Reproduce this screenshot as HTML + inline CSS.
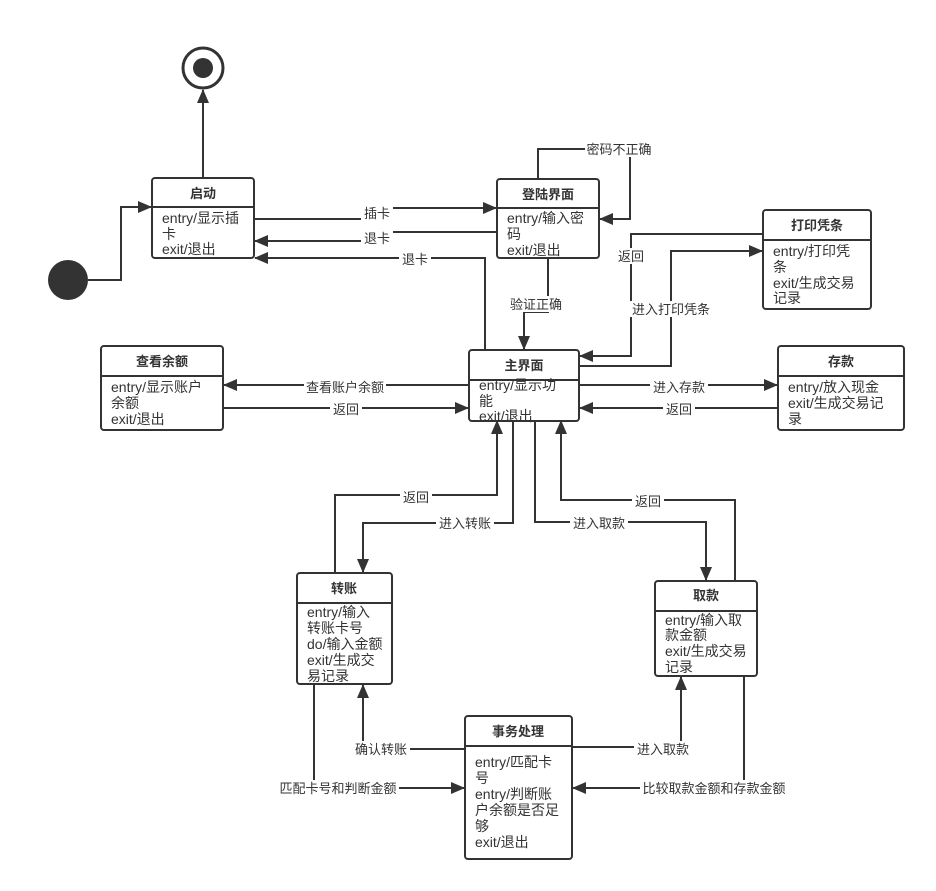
<!DOCTYPE html>
<html><head><meta charset="utf-8"><style>
body{margin:0;background:#fff}
svg{display:block}
text{font-family:"Liberation Sans","Noto Sans CJK SC",sans-serif;font-size:14px;fill:#333}
.t{font-weight:bold;text-anchor:middle;font-size:13px}
.l{text-anchor:middle;font-size:13px}
.b{fill:#fff;stroke:#333;stroke-width:2}
.c{fill:none;stroke:#333;stroke-width:2}
</style></head><body>
<svg width="936" height="891" viewBox="0 0 936 891" xmlns="http://www.w3.org/2000/svg">
<defs><marker id="a" markerWidth="14" markerHeight="12" refX="13" refY="6" orient="auto" markerUnits="userSpaceOnUse"><path d="M0,0 L14,6 L0,12 z" fill="#333"/></marker></defs>
<g class="c" marker-end="url(#a)">
<path d="M88,280 H121 V207 H151"/>
<path d="M203,178 V90"/>
<path d="M254,219 H363 V208 H496"/>
<path d="M497,232 H390 V241 H255"/>
<path d="M485,350 V258 H255"/>
<path d="M538,179 V149 H630 V219 H600"/>
<path d="M548,258 V312 H524 V349"/>
<path d="M763,234 H631 V356 H580"/>
<path d="M579,366 H671 V251 H762"/>
<path d="M579,385 H777"/>
<path d="M778,408 H580"/>
<path d="M469,385 H224"/>
<path d="M223,408 H468"/>
<path d="M335,573 V495 H497 V421"/>
<path d="M513,421 V523 H363 V572"/>
<path d="M535,421 V522 H706 V580"/>
<path d="M735,581 V500 H561 V421"/>
<path d="M465,749 H363 V685"/>
<path d="M314,684 V788 H464"/>
<path d="M572,747 H681 V677"/>
<path d="M744,676 V788 H573"/>
</g>
<g>
<rect x="361" y="205" width="32" height="16" fill="#fff"/><text class="l" x="377" y="218">插卡</text>
<rect x="361" y="230" width="32" height="16" fill="#fff"/><text class="l" x="377" y="243">退卡</text>
<rect x="399" y="251" width="32" height="16" fill="#fff"/><text class="l" x="415" y="264">退卡</text>
<rect x="585" y="141" width="68" height="16" fill="#fff"/><text class="l" x="619" y="154">密码不正确</text>
<rect x="507" y="296" width="58" height="16" fill="#fff"/><text class="l" x="536" y="309">验证正确</text>
<rect x="615" y="248" width="32" height="16" fill="#fff"/><text class="l" x="631" y="261">返回</text>
<rect x="628" y="301" width="86" height="16" fill="#fff"/><text class="l" x="671" y="314">进入打印凭条</text>
<rect x="650" y="379" width="58" height="16" fill="#fff"/><text class="l" x="679" y="392">进入存款</text>
<rect x="663" y="401" width="32" height="16" fill="#fff"/><text class="l" x="679" y="414">返回</text>
<rect x="304" y="379" width="82" height="16" fill="#fff"/><text class="l" x="345" y="392">查看账户余额</text>
<rect x="330" y="401" width="32" height="16" fill="#fff"/><text class="l" x="346" y="414">返回</text>
<rect x="400" y="489" width="32" height="16" fill="#fff"/><text class="l" x="416" y="502">返回</text>
<rect x="436" y="515" width="58" height="16" fill="#fff"/><text class="l" x="465" y="528">进入转账</text>
<rect x="570" y="515" width="58" height="16" fill="#fff"/><text class="l" x="599" y="528">进入取款</text>
<rect x="632" y="493" width="32" height="16" fill="#fff"/><text class="l" x="648" y="506">返回</text>
<rect x="352" y="741" width="58" height="16" fill="#fff"/><text class="l" x="381" y="754">确认转账</text>
<rect x="277" y="780" width="122" height="16" fill="#fff"/><text class="l" x="338" y="793">匹配卡号和判断金额</text>
<rect x="634" y="741" width="58" height="16" fill="#fff"/><text class="l" x="663" y="754">进入取款</text>
<rect x="640" y="780" width="148" height="16" fill="#fff"/><text class="l" x="714" y="793">比较取款金额和存款金额</text>
</g>
<circle cx="68" cy="280" r="20" fill="#333"/>
<circle cx="203" cy="68" r="20" fill="#fff" stroke="#333" stroke-width="3"/>
<circle cx="203" cy="68" r="10" fill="#333"/>
<g>
<rect class="b" x="152" y="178" width="102" height="80" rx="3"/><path class="c" d="M152,207 H254"/>
<text class="t" x="203" y="198">启动</text>
<text x="162" y="223">entry/显示插</text><text x="162" y="239">卡</text><text x="162" y="254">exit/退出</text>
<rect class="b" x="497" y="179" width="102" height="79" rx="3"/><path class="c" d="M497,208 H599"/>
<text class="t" x="548" y="199">登陆界面</text>
<text x="507" y="223">entry/输入密</text><text x="507" y="239">码</text><text x="507" y="255">exit/退出</text>
<rect class="b" x="763" y="210" width="108" height="99" rx="3"/><path class="c" d="M763,240 H871"/>
<text class="t" x="817" y="230">打印凭条</text>
<text x="773" y="256">entry/打印凭</text><text x="773" y="272">条</text><text x="773" y="288">exit/生成交易</text><text x="773" y="303">记录</text>
<rect class="b" x="101" y="346" width="122" height="84" rx="3"/><path class="c" d="M101,376 H223"/>
<text class="t" x="162" y="366">查看余额</text>
<text x="111" y="392">entry/显示账户</text><text x="111" y="408">余额</text><text x="111" y="424">exit/退出</text>
<rect class="b" x="469" y="350" width="110" height="71" rx="3"/><path class="c" d="M469,380 H579"/>
<text class="t" x="524" y="370">主界面</text>
<text x="479" y="390">entry/显示功</text><text x="479" y="406">能</text><text x="479" y="421">exit/退出</text>
<rect class="b" x="778" y="346" width="126" height="84" rx="3"/><path class="c" d="M778,376 H904"/>
<text class="t" x="841" y="366">存款</text>
<text x="788" y="392">entry/放入现金</text><text x="788" y="408">exit/生成交易记</text><text x="788" y="424">录</text>
<rect class="b" x="297" y="573" width="95" height="111" rx="3"/><path class="c" d="M297,603 H392"/>
<text class="t" x="344" y="593">转账</text>
<text x="307" y="617">entry/输入</text><text x="307" y="633">转账卡号</text><text x="307" y="649">do/输入金额</text><text x="307" y="665">exit/生成交</text><text x="307" y="681">易记录</text>
<rect class="b" x="655" y="581" width="102" height="95" rx="3"/><path class="c" d="M655,611 H757"/>
<text class="t" x="706" y="600">取款</text>
<text x="665" y="625">entry/输入取</text><text x="665" y="640">款金额</text><text x="665" y="656">exit/生成交易</text><text x="665" y="672">记录</text>
<rect class="b" x="465" y="716" width="107" height="143" rx="3"/><path class="c" d="M465,746 H572"/>
<text class="t" x="518" y="736">事务处理</text>
<text x="475" y="767">entry/匹配卡</text><text x="475" y="783">号</text><text x="475" y="799">entry/判断账</text><text x="475" y="815">户余额是否足</text><text x="475" y="831">够</text><text x="475" y="847">exit/退出</text>
</g>
</svg>
</body></html>
